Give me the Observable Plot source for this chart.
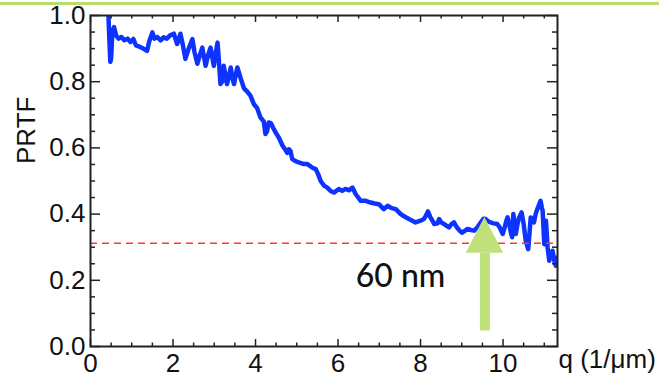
<!DOCTYPE html>
<html><head><meta charset="utf-8">
<script src="https://cdn.jsdelivr.net/npm/d3@7"></script>
<script src="https://cdn.jsdelivr.net/npm/@observablehq/plot@0.6"></script>
<style>
body{margin:0;background:#fff;}
#wrap{position:relative;width:659px;height:383px;}
#bar{position:absolute;left:0;top:2px;width:659px;height:3px;background:#b9dc6e;}
</style></head><body><div id="wrap"><div id="bar"></div></div>
<script>
const qValues = [0.43,0.45,0.48,0.50,0.53,0.57,0.62,0.68,0.75,0.82,0.90,0.97,1.04,1.10,1.20,1.28,1.37,1.42,1.50,1.55,1.62,1.70,1.77,1.85,1.93,2.02,2.10,2.18,2.24,2.30,2.38,2.47,2.52,2.59,2.65,2.71,2.79,2.85,2.91,2.99,3.04,3.08,3.12,3.15,3.19,3.23,3.27,3.31,3.36,3.40,3.44,3.48,3.52,3.56,3.64,3.72,3.80,3.88,3.96,4.04,4.12,4.20,4.24,4.28,4.32,4.37,4.43,4.49,4.57,4.65,4.72,4.77,4.81,4.85,4.89,4.97,5.05,5.17,5.26,5.38,5.46,5.52,5.58,5.66,5.74,5.82,5.90,6.02,6.10,6.18,6.27,6.35,6.43,6.55,6.67,6.79,6.89,6.99,7.11,7.20,7.30,7.40,7.52,7.62,7.72,7.80,7.88,8.00,8.08,8.13,8.18,8.24,8.29,8.33,8.41,8.45,8.50,8.57,8.69,8.75,8.81,8.88,8.95,9.01,9.08,9.14,9.22,9.30,9.38,9.46,9.53,9.58,9.64,9.70,9.77,9.86,9.92,9.99,10.04,10.08,10.11,10.15,10.19,10.22,10.25,10.28,10.31,10.35,10.39,10.45,10.50,10.55,10.61,10.64,10.67,10.71,10.75,10.79,10.83,10.88,10.91,10.94,10.96,11.00,11.02,11.04,11.08,11.12,11.16,11.20,11.24,11.28,11.32];
const prtfValues = [1.02,0.95,0.86,0.87,0.95,0.965,0.94,0.93,0.935,0.925,0.93,0.92,0.929,0.91,0.905,0.90,0.893,0.92,0.949,0.93,0.935,0.925,0.934,0.93,0.94,0.945,0.914,0.945,0.91,0.869,0.90,0.929,0.89,0.854,0.88,0.903,0.848,0.88,0.903,0.848,0.89,0.918,0.85,0.793,0.80,0.848,0.82,0.793,0.82,0.843,0.81,0.793,0.82,0.843,0.81,0.78,0.77,0.757,0.732,0.72,0.692,0.68,0.642,0.65,0.677,0.675,0.66,0.646,0.63,0.608,0.595,0.585,0.596,0.59,0.566,0.56,0.556,0.551,0.551,0.54,0.536,0.52,0.50,0.486,0.48,0.47,0.465,0.476,0.47,0.476,0.472,0.48,0.46,0.44,0.44,0.435,0.432,0.43,0.415,0.425,0.418,0.415,0.40,0.392,0.385,0.38,0.375,0.38,0.385,0.395,0.408,0.39,0.38,0.37,0.372,0.385,0.375,0.37,0.36,0.37,0.375,0.36,0.35,0.344,0.35,0.355,0.352,0.35,0.36,0.375,0.386,0.385,0.378,0.375,0.372,0.37,0.36,0.34,0.36,0.38,0.39,0.37,0.344,0.33,0.40,0.37,0.34,0.37,0.39,0.405,0.37,0.319,0.294,0.34,0.39,0.385,0.375,0.40,0.415,0.43,0.44,0.42,0.41,0.309,0.35,0.38,0.30,0.259,0.28,0.289,0.26,0.244,0.269];
const xMajorTicks = [0,2,4,6,8,10];
const xMinorTicks = [0.5,1,1.5,2.5,3,3.5,4.5,5,5.5,6.5,7,7.5,8.5,9,9.5,10.5,11];
const yMajorTicks = [0,0.2,0.4,0.6,0.8,1.0];
const yMinorTicks = [0.05,0.1,0.15,0.25,0.3,0.35,0.45,0.5,0.55,0.65,0.7,0.75,0.85,0.9,0.95];
const thresholdValue = 0.312;
const arrowQ = 9.56, arrowBottom = 0.047, arrowHeadBase = 0.282, arrowTip = 0.39, arrowHalfWidth = 0.455;
const annotationText = "60 nm", annotationQ = 6.43, annotationY = 0.21;
const yLabel = "PRTF", xLabel = "q (1/\u03bcm)";

const W = 659, H = 383, mL = 90, mR = 102, mT = 15, mB = 37;
const innerW = W - mL - mR, innerH = H - mT - mB;
const axisColor = "#222";
const sans = "'Liberation Sans', Arial, sans-serif";
const curve = qValues.map((q, i) => ({q, p: prtfValues[i]}));
const tri = [
  {x: arrowQ - arrowHalfWidth, y: arrowHeadBase},
  {x: arrowQ, y: arrowTip},
  {x: arrowQ + arrowHalfWidth, y: arrowHeadBase}
];
const green = "#bfe07a";

const chart = Plot.plot({
  width: W, height: H,
  marginLeft: mL, marginRight: mR, marginTop: mT, marginBottom: mB,
  style: {fontFamily: sans, fontSize: "26px", color: "#111", background: "transparent"},
  x: {domain: [0, 11.32]},
  y: {domain: [0, 1]},
  marks: [
    Plot.line(curve, {x: "q", y: "p", stroke: "#0f33ff", strokeWidth: 4.5, strokeLinejoin: "round", clip: true}),
    Plot.ruleY([thresholdValue], {y: d => d, stroke: "#ff3a1a", strokeWidth: 1.5, strokeDasharray: "7,5"}),
    Plot.ruleX([arrowQ], {x: d => d, y1: arrowBottom, y2: arrowHeadBase, stroke: green, strokeWidth: 10}),
    Plot.areaY(tri, {x: "x", y1: arrowHeadBase, y2: "y", fill: green}),
    Plot.text([annotationText], {x: annotationQ, y: annotationY, text: d => d, textAnchor: "start", lineAnchor: "middle", fontSize: 32, fontFamily: "Lato, 'Open Sans', sans-serif", fontWeight: 500, fill: "#111"}),
    Plot.frame({stroke: axisColor, strokeWidth: 2}),
    Plot.tickX(xMajorTicks, {x: d => d, insetTop: innerH - 7, stroke: axisColor, strokeWidth: 1.5}),
    Plot.tickX(xMinorTicks, {x: d => d, insetTop: innerH - 3.5, stroke: axisColor, strokeWidth: 1.5}),
    Plot.tickX(xMajorTicks, {x: d => d, insetBottom: innerH - 7, stroke: axisColor, strokeWidth: 1.5}),
    Plot.tickX(xMinorTicks, {x: d => d, insetBottom: innerH - 3.5, stroke: axisColor, strokeWidth: 1.5}),
    Plot.tickY(yMajorTicks, {y: d => d, insetRight: innerW - 10, stroke: axisColor, strokeWidth: 1.5}),
    Plot.tickY(yMinorTicks, {y: d => d, insetRight: innerW - 5, stroke: axisColor, strokeWidth: 1.5}),
    Plot.tickY(yMajorTicks, {y: d => d, insetLeft: innerW - 10, stroke: axisColor, strokeWidth: 1.5}),
    Plot.tickY(yMinorTicks, {y: d => d, insetLeft: innerW - 5, stroke: axisColor, strokeWidth: 1.5}),
    Plot.axisX({ticks: xMajorTicks, tickSize: 0, tickPadding: 7, label: null, tickFormat: d3.format("d"), fontSize: 26}),
    Plot.axisY({ticks: yMajorTicks, tickSize: 0, tickPadding: 5, label: null, tickFormat: d3.format(".1f"), fontSize: 26}),
    Plot.text([yLabel], {frameAnchor: "left", text: d => d, rotate: -90, dx: -64, dy: -17, fontSize: 26, fontFamily: sans, fill: "#111"}),
    Plot.text([xLabel], {frameAnchor: "bottom-right", text: d => d, textAnchor: "start", dx: 1, dy: 21, fontSize: 26, fontFamily: sans, fill: "#111"})
  ]
});
document.getElementById("wrap").appendChild(chart);
chart.style.position = "absolute";
chart.style.left = "0";
chart.style.top = "0";
</script>
</body></html>
